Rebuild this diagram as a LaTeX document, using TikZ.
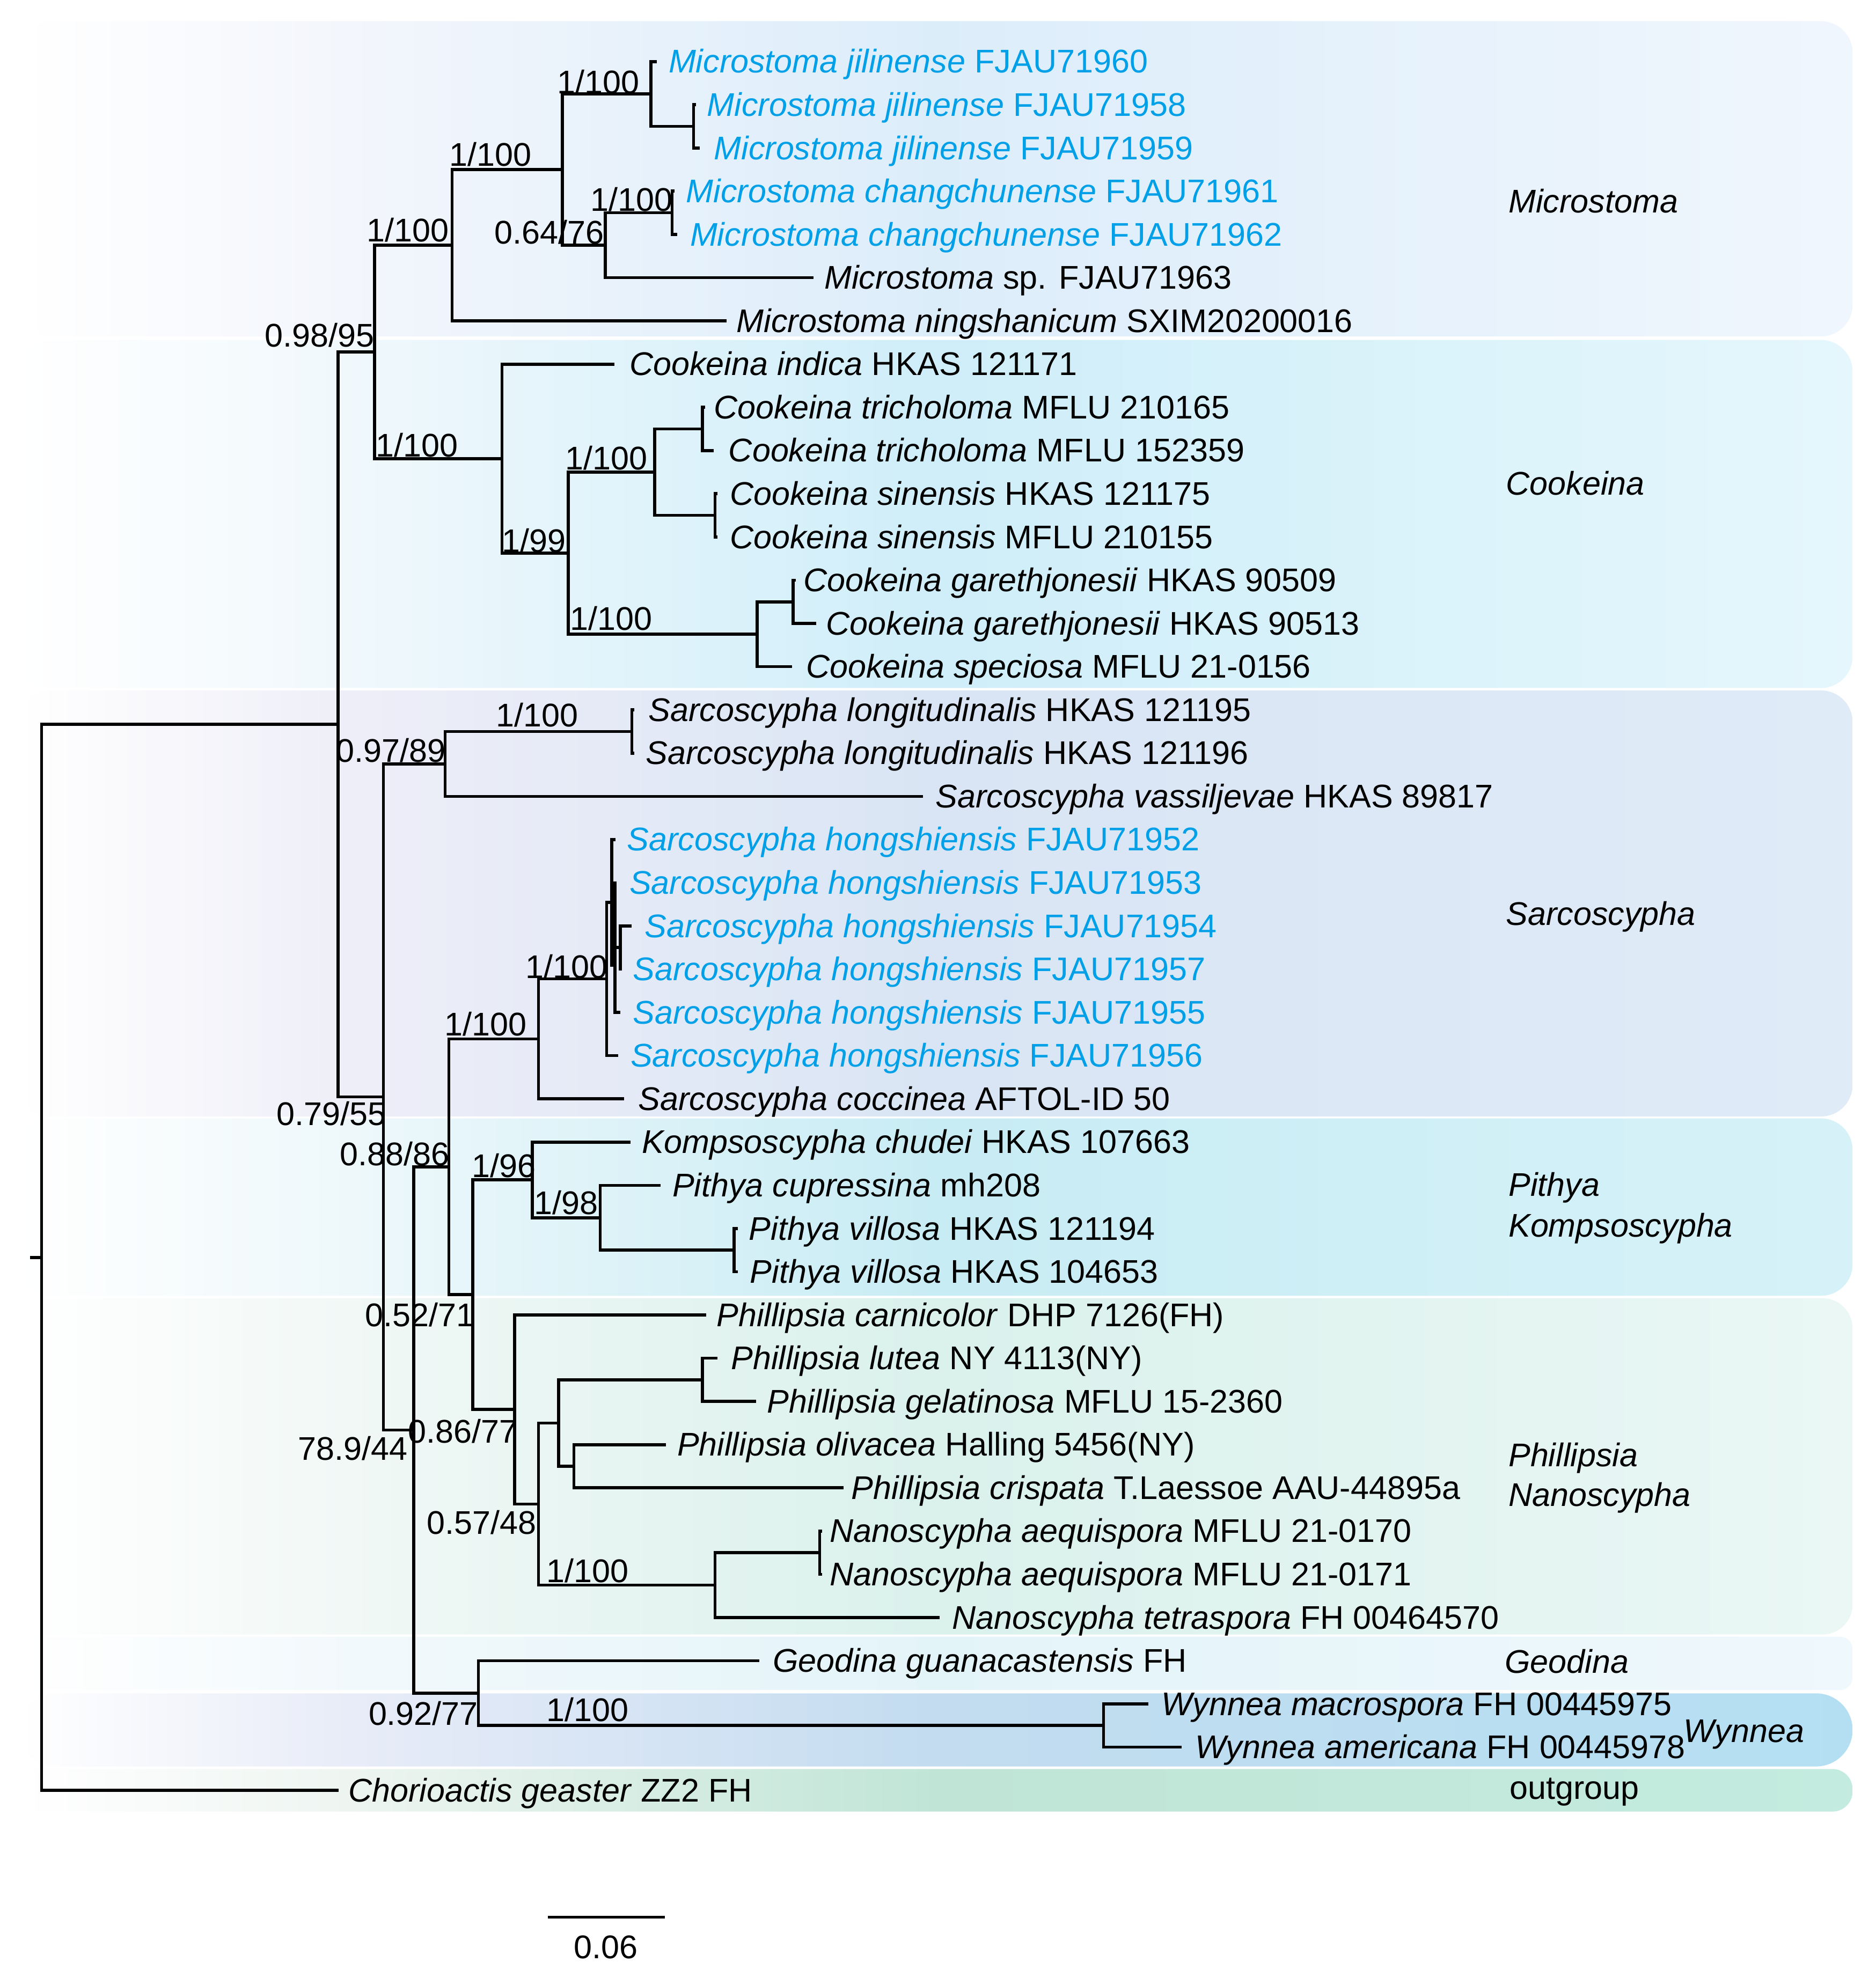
\documentclass[tikz,border=0pt]{standalone}
\usepackage{fontspec}
\setmainfont{Liberation Sans}
\definecolor{tipblue}{RGB}{0,160,233}
\definecolor{micL}{HTML}{F3F6FC}\definecolor{micM}{HTML}{DCEDFA}\definecolor{micR}{HTML}{F0F6FD}
\definecolor{cooL}{HTML}{F0F8FC}\definecolor{cooM}{HTML}{CFEEF9}\definecolor{cooR}{HTML}{E5F7FC}
\definecolor{sarL}{HTML}{EEEEF8}\definecolor{sarM}{HTML}{D9E5F4}\definecolor{sarR}{HTML}{DFEBF7}
\definecolor{pitL}{HTML}{EEF8FB}\definecolor{pitM}{HTML}{C8ECF4}\definecolor{pitR}{HTML}{D6F2F8}
\definecolor{phiL}{HTML}{F1F8F6}\definecolor{phiM}{HTML}{DAF1EC}\definecolor{phiR}{HTML}{EAF7F5}
\definecolor{geoL}{HTML}{F2F9FC}\definecolor{geoM}{HTML}{E3F4F9}\definecolor{geoR}{HTML}{EFF8FC}
\definecolor{wynL}{HTML}{E8ECF8}\definecolor{wynM}{HTML}{C3DCF0}\definecolor{wynR}{HTML}{B4DFF2}
\definecolor{outL}{HTML}{EEF5F1}\definecolor{outM}{HTML}{C0E5D6}\definecolor{outR}{HTML}{C3EBDF}
\pgfdeclarehorizontalshading{shMic}{100bp}{color(0bp)=(white); color(25bp)=(white); color(34bp)=(micL); color(50bp)=(micM); color(75bp)=(micR); color(100bp)=(micR)}
\pgfdeclarehorizontalshading{shCoo}{100bp}{color(0bp)=(white); color(25bp)=(white); color(34bp)=(cooL); color(50bp)=(cooM); color(75bp)=(cooR); color(100bp)=(cooR)}
\pgfdeclarehorizontalshading{shSar}{100bp}{color(0bp)=(white); color(25bp)=(white); color(34bp)=(sarL); color(50bp)=(sarM); color(75bp)=(sarR); color(100bp)=(sarR)}
\pgfdeclarehorizontalshading{shPit}{100bp}{color(0bp)=(white); color(25bp)=(white); color(34bp)=(pitL); color(50bp)=(pitM); color(75bp)=(pitR); color(100bp)=(pitR)}
\pgfdeclarehorizontalshading{shPhi}{100bp}{color(0bp)=(white); color(25bp)=(white); color(34bp)=(phiL); color(50bp)=(phiM); color(75bp)=(phiR); color(100bp)=(phiR)}
\pgfdeclarehorizontalshading{shGeo}{100bp}{color(0bp)=(white); color(25bp)=(white); color(34bp)=(geoL); color(50bp)=(geoM); color(75bp)=(geoR); color(100bp)=(geoR)}
\pgfdeclarehorizontalshading{shWyn}{100bp}{color(0bp)=(white); color(25bp)=(white); color(34bp)=(wynL); color(50bp)=(wynM); color(75bp)=(wynR); color(100bp)=(wynR)}
\pgfdeclarehorizontalshading{shOut}{100bp}{color(0bp)=(white); color(25bp)=(white); color(34bp)=(outL); color(50bp)=(outM); color(75bp)=(outR); color(100bp)=(outR)}
\newcommand\treeedge[2]{\draw[br] (#1) |- (#2);}
\begin{document}
\begin{tikzpicture}[x=1pt,y=-1pt,
  br/.style={line width=2.4pt, line join=miter, black},
  lab/.style={anchor=base west, inner sep=0pt, font=\fontsize{26}{30}\selectfont},
  blab/.style={lab, text=tipblue},
  sup/.style={anchor=base, inner sep=0pt, font=\fontsize{26}{30}\selectfont},
  clade/.style={anchor=base west, inner sep=0pt, font=\fontsize{26}{30}\selectfont}]
\useasboundingbox (0,0) rectangle (1487.2,1568);
% backgrounds
\shade[shading=shMic, rounded corners=25pt] (15,16.8) rectangle (1469,266.8);
\shade[shading=shCoo, rounded corners=25pt] (15,269.6) rectangle (1469,545.7);
\shade[shading=shSar, rounded corners=25pt] (15,547.6) rectangle (1469,885.5);
\shade[shading=shPit, rounded corners=25pt] (15,887) rectangle (1469,1027.7);
\shade[shading=shPhi, rounded corners=24pt] (15,1029.6) rectangle (1469,1296.4);
\shade[shading=shGeo, rounded corners=10pt] (15,1298) rectangle (1469,1340.4);
\shade[shading=shWyn, rounded corners=29pt] (15,1343) rectangle (1469,1401);
\shade[shading=shOut, rounded corners=16pt] (15,1403) rectangle (1469,1436.8);
% internal nodes
\coordinate (root) at (33,997.3);
\coordinate (rtick) at (23.7,997.3);
\coordinate (nA) at (268,574.55);
\coordinate (nB) at (297,279.1);
\coordinate (nC) at (358.5,194.5);
\coordinate (nD) at (446,134.5);
\coordinate (nE) at (516,74.5);
\coordinate (nF) at (550,100.25);
\coordinate (nG) at (480,194.5);
\coordinate (nH) at (533,168.75);
\coordinate (nCook) at (398,363.75);
\coordinate (nI) at (450.5,438.7);
\coordinate (nJ) at (519,374.45);
\coordinate (nK1) at (557,340.15);
\coordinate (nK2) at (567,408.75);
\coordinate (nL) at (600.4,503.0);
\coordinate (nM) at (629,477.3);
\coordinate (nX) at (304,870.0);
\coordinate (nS1) at (353,605.9);
\coordinate (nSl) at (501,580.15);
\coordinate (nY) at (328,1134.15);
\coordinate (nZ) at (356,925.4);
\coordinate (nHC) at (427,823.95);
\coordinate (nh1) at (481,776.4);
\coordinate (nh2) at (485,715.6);
\coordinate (nh3) at (487.5,765.4);
\coordinate (nh4) at (492,751.55);
\coordinate (nW) at (375,1026.85);
\coordinate (nK) at (422,935.8);
\coordinate (nP) at (476,965.8);
\coordinate (nV) at (582,991.5);
\coordinate (nPh) at (408,1117.9);
\coordinate (nQ) at (427,1192.9);
\coordinate (nR) at (443,1128.6);
\coordinate (nLG) at (557,1094.35);
\coordinate (nOC) at (455,1162.9);
\coordinate (nN) at (567,1257.2);
\coordinate (nAE) at (650,1231.45);
\coordinate (nGW) at (379.4,1342.9);
\coordinate (nWy) at (875,1368.55);
% tip ends
\coordinate (e1) at (521,48.8);
\coordinate (e2) at (552,83.1);
\coordinate (e3) at (555,117.4);
\coordinate (e4) at (535,151.6);
\coordinate (e5) at (537,185.9);
\coordinate (e6) at (645,220.2);
\coordinate (e7) at (576,254.5);
\coordinate (e8) at (487,288.8);
\coordinate (e9) at (559,323.0);
\coordinate (e10) at (566,357.3);
\coordinate (e11) at (569,391.6);
\coordinate (e12) at (569,425.9);
\coordinate (e13) at (631,460.2);
\coordinate (e14) at (647,494.4);
\coordinate (e15) at (628,528.7);
\coordinate (e16) at (503,563.0);
\coordinate (e17) at (503,597.3);
\coordinate (e18) at (732,631.6);
\coordinate (e19) at (488,665.8);
\coordinate (e20) at (489,700.1);
\coordinate (e21) at (501,734.4);
\coordinate (e22) at (493,768.7);
\coordinate (e23) at (492,803.0);
\coordinate (e24) at (490,837.2);
\coordinate (e25) at (495,871.5);
\coordinate (e26) at (500,905.8);
\coordinate (e27) at (524,940.1);
\coordinate (e28) at (585,974.4);
\coordinate (e29) at (585,1008.6);
\coordinate (e30) at (560,1042.9);
\coordinate (e31) at (569,1077.2);
\coordinate (e32) at (599.5,1111.5);
\coordinate (e33) at (528,1145.8);
\coordinate (e34) at (669,1180.0);
\coordinate (e35) at (652,1214.3);
\coordinate (e36) at (652,1248.6);
\coordinate (e37) at (745,1282.9);
\coordinate (e38) at (602,1317.2);
\coordinate (e39) at (910.6,1351.4);
\coordinate (e40) at (937,1385.7);
\coordinate (e41) at (268.4,1420.0);
% branches
\draw[br] (rtick) -- (root);
\treeedge{root}{nA}\treeedge{root}{e41}
\treeedge{nA}{nB}\treeedge{nA}{nX}
\treeedge{nB}{nC}\treeedge{nB}{nCook}
\treeedge{nC}{nD}\treeedge{nC}{e7}
\treeedge{nD}{nE}\treeedge{nD}{nG}
\treeedge{nE}{e1}\treeedge{nE}{nF}
\treeedge{nF}{e2}\treeedge{nF}{e3}
\treeedge{nG}{nH}\treeedge{nG}{e6}
\treeedge{nH}{e4}\treeedge{nH}{e5}
\treeedge{nCook}{e8}\treeedge{nCook}{nI}
\treeedge{nI}{nJ}\treeedge{nI}{nL}
\treeedge{nJ}{nK1}\treeedge{nJ}{nK2}
\treeedge{nK1}{e9}\treeedge{nK1}{e10}
\treeedge{nK2}{e11}\treeedge{nK2}{e12}
\treeedge{nL}{nM}\treeedge{nL}{e15}
\treeedge{nM}{e13}\treeedge{nM}{e14}
\treeedge{nX}{nS1}\treeedge{nX}{nY}
\treeedge{nS1}{nSl}\treeedge{nS1}{e18}
\treeedge{nSl}{e16}\treeedge{nSl}{e17}
\treeedge{nY}{nZ}\treeedge{nY}{nGW}
\treeedge{nZ}{nHC}\treeedge{nZ}{nW}
\treeedge{nHC}{nh1}\treeedge{nHC}{e25}
\treeedge{nh1}{nh2}\treeedge{nh1}{e24}
\treeedge{nh2}{e19}\treeedge{nh2}{nh3}
\treeedge{nh3}{e20}\treeedge{nh3}{nh4}\treeedge{nh3}{e23}
\treeedge{nh4}{e21}\treeedge{nh4}{e22}
\treeedge{nW}{nK}\treeedge{nW}{nPh}
\treeedge{nK}{e26}\treeedge{nK}{nP}
\treeedge{nP}{e27}\treeedge{nP}{nV}
\treeedge{nV}{e28}\treeedge{nV}{e29}
\treeedge{nPh}{e30}\treeedge{nPh}{nQ}
\treeedge{nQ}{nR}\treeedge{nQ}{nN}
\treeedge{nR}{nLG}\treeedge{nR}{nOC}
\treeedge{nLG}{e31}\treeedge{nLG}{e32}
\treeedge{nOC}{e33}\treeedge{nOC}{e34}
\treeedge{nN}{nAE}\treeedge{nN}{e37}
\treeedge{nAE}{e35}\treeedge{nAE}{e36}
\treeedge{nGW}{e38}\treeedge{nGW}{nWy}
\treeedge{nWy}{e39}\treeedge{nWy}{e40}
% tip labels
\node[blab] (t1) at (530,57.8) {\textit{Microstoma jilinense} FJAU71960};
\node[blab] (t2) at (560.5,92.1) {\textit{Microstoma jilinense} FJAU71958};
\node[blab] (t3) at (566,126.4) {\textit{Microstoma jilinense} FJAU71959};
\node[blab] (t4) at (544,160.6) {\textit{Microstoma changchunense} FJAU71961};
\node[blab] (t5) at (547,194.9) {\textit{Microstoma changchunense} FJAU71962};
\node[lab] (t6) at (653.5,229.2) {\textit{Microstoma} sp. FJAU71963};
\node[lab] (t7) at (584,263.5) {\textit{Microstoma ningshanicum} SXIM20200016};
\node[lab] (t8) at (499,297.8) {\textit{Cookeina indica} HKAS 121171};
\node[lab] (t9) at (566,332.0) {\textit{Cookeina tricholoma} MFLU 210165};
\node[lab] (t10) at (577.6,366.3) {\textit{Cookeina tricholoma} MFLU 152359};
\node[lab] (t11) at (578.5,400.6) {\textit{Cookeina sinensis} HKAS 121175};
\node[lab] (t12) at (578.5,434.9) {\textit{Cookeina sinensis} MFLU 210155};
\node[lab] (t13) at (637,469.2) {\textit{Cookeina garethjonesii} HKAS 90509};
\node[lab] (t14) at (655,503.4) {\textit{Cookeina garethjonesii} HKAS 90513};
\node[lab] (t15) at (639,537.7) {\textit{Cookeina speciosa} MFLU 21-0156};
\node[lab] (t16) at (514,572.0) {\textit{Sarcoscypha longitudinalis} HKAS 121195};
\node[lab] (t17) at (512,606.3) {\textit{Sarcoscypha longitudinalis} HKAS 121196};
\node[lab] (t18) at (741.7,640.6) {\textit{Sarcoscypha vassiljevae} HKAS 89817};
\node[blab] (t19) at (497,674.8) {\textit{Sarcoscypha hongshiensis} FJAU71952};
\node[blab] (t20) at (499,709.1) {\textit{Sarcoscypha hongshiensis} FJAU71953};
\node[blab] (t21) at (511,743.4) {\textit{Sarcoscypha hongshiensis} FJAU71954};
\node[blab] (t22) at (501.7,777.7) {\textit{Sarcoscypha hongshiensis} FJAU71957};
\node[blab] (t23) at (501.7,812.0) {\textit{Sarcoscypha hongshiensis} FJAU71955};
\node[blab] (t24) at (499.8,846.2) {\textit{Sarcoscypha hongshiensis} FJAU71956};
\node[lab] (t25) at (506,880.5) {\textit{Sarcoscypha coccinea} AFTOL-ID 50};
\node[lab] (t26) at (509,914.8) {\textit{Kompsoscypha chudei} HKAS 107663};
\node[lab] (t27) at (533,949.1) {\textit{Pithya cupressina} mh208};
\node[lab] (t28) at (593.7,983.4) {\textit{Pithya villosa} HKAS 121194};
\node[lab] (t29) at (594.6,1017.6) {\textit{Pithya villosa} HKAS 104653};
\node[lab] (t30) at (568,1051.9) {\textit{Phillipsia carnicolor} DHP 7126(FH)};
\node[lab] (t31) at (579.5,1086.2) {\textit{Phillipsia lutea} NY 4113(NY)};
\node[lab] (t32) at (608,1120.5) {\textit{Phillipsia gelatinosa} MFLU 15-2360};
\node[lab] (t33) at (536.8,1154.8) {\textit{Phillipsia olivacea} Halling 5456(NY)};
\node[lab] (t34) at (675,1189.0) {\textit{Phillipsia crispata} T.Laessoe AAU-44895a};
\node[lab] (t35) at (658,1223.3) {\textit{Nanoscypha aequispora} MFLU 21-0170};
\node[lab] (t36) at (658,1257.6) {\textit{Nanoscypha aequispora} MFLU 21-0171};
\node[lab] (t37) at (755,1291.9) {\textit{Nanoscypha tetraspora} FH 00464570};
\node[lab] (t38) at (612.7,1326.2) {\textit{Geodina guanacastensis} FH};
\node[lab] (t39) at (921,1360.4) {\textit{Wynnea macrospora} FH 00445975};
\node[lab] (t40) at (947.5,1394.7) {\textit{Wynnea americana} FH 00445978};
\node[lab] (t41) at (276,1429.0) {\textit{Chorioactis geaster} ZZ2 FH};
% support values
\node[sup] (s1) at (474.5,74.3) {1/100};
\node[sup] (s2) at (389,131.7) {1/100};
\node[sup] (s3) at (323.5,191.7) {1/100};
\node[sup] (s4) at (253.3,275.3) {0.98/95};
\node[sup] (s5) at (501,167.6) {1/100};
\node[sup] (s6) at (435.4,193.3) {0.64/76};
\node[sup] (s7) at (330.5,362.3) {1/100};
\node[sup] (s8) at (480.8,372.6) {1/100};
\node[sup] (s9) at (423.3,437.9) {1/99};
\node[sup] (s10) at (484.7,499.6) {1/100};
\node[sup] (s11) at (425.8,576.3) {1/100};
\node[sup] (s12) at (310,604.6) {0.97/89};
\node[sup] (s13) at (449.5,775.7) {1/100};
\node[sup] (s14) at (385,821.3) {1/100};
\node[sup] (s15) at (262.7,892.3) {0.79/55};
\node[sup] (s16) at (313,924.5) {0.88/86};
\node[sup] (s17) at (399.4,933.6) {1/96};
\node[sup] (s18) at (449,963.3) {1/98};
\node[sup] (s19) at (332.8,1052.1) {0.52/71};
\node[sup] (s20) at (367,1144.6) {0.86/77};
\node[sup] (s21) at (279.8,1157.9) {78.9/44};
\node[sup] (s22) at (381.8,1216.8) {0.57/48};
\node[sup] (s23) at (465.8,1255.1) {1/100};
\node[sup] (s24) at (335.7,1368.3) {0.92/77};
\node[sup] (s25) at (465.8,1365.3) {1/100};
% clade labels
\node[clade] (c1) at (1196,168.6) {\textit{Microstoma}};
\node[clade] (c2) at (1194,392.7) {\textit{Cookeina}};
\node[clade] (c3) at (1194,733.6) {\textit{Sarcoscypha}};
\node[clade] (c4) at (1196,948.8) {\textit{Pithya}};
\node[clade] (c5) at (1196,980.9) {\textit{Kompsoscypha}};
\node[clade] (c6) at (1196,1163.2) {\textit{Phillipsia}};
\node[clade] (c7) at (1196,1194.6) {\textit{Nanoscypha}};
\node[clade] (c8) at (1193,1327.1) {\textit{Geodina}};
\node[clade] (c9) at (1335,1382) {\textit{Wynnea}};
\node[clade] (c10) at (1197,1427) {outgroup};
% scale bar
\coordinate (sb1) at (434.4,1520.6);
\coordinate (sb2) at (527.4,1520.6);
\draw[br] (sb1) -- (sb2);
\node[sup] (sbl) at (480.3,1553.3) {0.06};
\end{tikzpicture}
\end{document}
